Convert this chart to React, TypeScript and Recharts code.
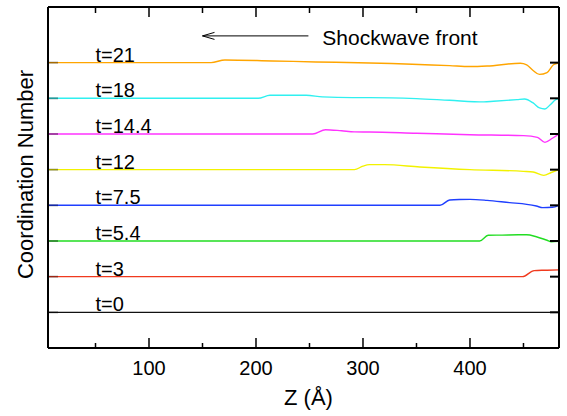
import { LineChart, Line, XAxis, YAxis, ReferenceDot, ReferenceLine } from "recharts";

const FONT = "'Liberation Sans', Arial, Helvetica, sans-serif";

// time labels (ps), bottom to top; each curve is stacked one unit above the previous
const TIMES = ["t=0", "t=3", "t=5.4", "t=7.5", "t=12", "t=14.4", "t=18", "t=21"];
const COLORS = ["#111111", "#F03A1E", "#22DD22", "#1F3FFF", "#F2F200", "#FF33FF", "#2FF0F0", "#FFA500"];

// Z positions (Å) and coordination number change for each time
const T0_Z = [6, 483];
const T0_D = [0, 0];
const T3_Z = [6, 449, 460, 470, 483];
const T3_D = [0, 0, 0.17, 0.18, 0.19];
const T54_Z = [6, 409, 417, 430, 445, 453, 462, 472, 476, 483];
const T54_D = [0, 0, 0.16, 0.165, 0.175, 0.175, 0.12, 0.02, -0.02, -0.01];
const T75_Z = [6, 372, 381, 390, 400, 416, 437, 453, 462, 468, 477, 483];
const T75_D = [0, 0, 0.15, 0.165, 0.168, 0.14, 0.075, 0.028, -0.02, -0.065, -0.056, 0];
const T12_Z = [6, 292, 300, 306, 320, 353, 400, 450, 459, 469, 476, 483];
const T12_D = [0, 0, 0.1, 0.14, 0.14, 0.075, 0, -0.047, -0.065, -0.16, -0.08, 0];
const T144_Z = [6, 253, 265, 280, 292, 306, 350, 400, 450, 463, 470, 477, 483];
const T144_D = [0, 0, 0.12, 0.09, 0.06, 0.056, 0.02, -0.02, -0.047, -0.095, -0.235, -0.12, 0];
const T18_Z = [6, 202, 213, 247, 262, 290, 306, 350, 381, 413, 422, 444, 451, 459, 465, 470, 475, 480, 483];
const T18_D = [0, 0, 0.084, 0.084, 0.04, 0.02, 0.02, -0.01, -0.056, -0.1, -0.084, -0.037, -0.02, -0.13, -0.27, -0.3, -0.18, -0.04, 0];
const T21_Z = [6, 158, 171, 215, 256, 306, 381, 400, 416, 447, 453, 459, 465, 472, 478, 483];
const T21_D = [0, 0, 0.076, 0.048, 0.02, -0.01, -0.084, -0.11, -0.095, -0.017, -0.06, -0.22, -0.33, -0.28, -0.06, -0.01];

const SERIES_Z = [T0_Z, T3_Z, T54_Z, T75_Z, T12_Z, T144_Z, T18_Z, T21_Z];
const SERIES_D = [T0_D, T3_D, T54_D, T75_D, T12_D, T144_D, T18_D, T21_D];

const X_TICKS = [50, 100, 150, 200, 250, 300, 350, 400, 450];
const Y_TICKS = [0, 1, 2, 3, 4, 5, 6, 7];
const X_DOMAIN = [5.6, 483.2];
const Y_DOMAIN = [-1, 8.56];

const series = SERIES_Z.map((zs, k) =>
  zs.map((z, i) => ({ z, v: k + SERIES_D[k][i] }))
);

function BottomTick(p: any) {
  const v = p.payload.value;
  const major = v % 100 === 0;
  return (
    <g>
      <line x1={p.x} x2={p.x} y1={p.y} y2={p.y - (major ? 10 : 5)} stroke="#000" strokeWidth={1.5} />
      {major && (
        <text x={p.x} y={p.y + 27} textAnchor="middle" fontSize={20} fontFamily={FONT} fill="#000">
          {v}
        </text>
      )}
    </g>
  );
}

function TopTick(p: any) {
  const major = p.payload.value % 100 === 0;
  return <line x1={p.x} x2={p.x} y1={p.y} y2={p.y + (major ? 10 : 6)} stroke="#000" strokeWidth={1.5} />;
}

function LeftTick(p: any) {
  return <line x1={p.x} x2={p.x + 10} y1={p.y} y2={p.y} stroke="#000" strokeOpacity={0.35} strokeWidth={2} />;
}

function RightTick(p: any) {
  return <line x1={p.x} x2={p.x - 9} y1={p.y} y2={p.y} stroke="#000" strokeWidth={2} />;
}

export default function App() {
  return (
    <div style={{ position: "absolute", left: 0, top: 0, width: 567, height: 416, background: "#fff" }}>
      <LineChart width={567} height={416} margin={{ top: 0, right: 0, bottom: 0, left: 0 }}>
        <XAxis
          xAxisId="b"
          type="number"
          dataKey="z"
          domain={X_DOMAIN}
          ticks={X_TICKS}
          interval={0}
          height={68}
          tickSize={0}
          tickMargin={0}
          axisLine={{ stroke: "#000", strokeWidth: 2 }}
          tick={BottomTick}
          allowDataOverflow
          label={{
            content: ({ viewBox }: any) => (
              <text
                x={viewBox.x + viewBox.width / 2 + 5}
                y={viewBox.y + 57}
                textAnchor="middle"
                fontSize={22}
                fontFamily={FONT}
                fill="#000"
              >
                Z (Å)
              </text>
            ),
          }}
        />
        <XAxis
          xAxisId="t"
          orientation="top"
          type="number"
          dataKey="z"
          domain={X_DOMAIN}
          ticks={X_TICKS}
          interval={0}
          height={7}
          tickSize={0}
          tickMargin={0}
          axisLine={{ stroke: "#000", strokeWidth: 2 }}
          tick={TopTick}
          allowDataOverflow
        />
        <YAxis
          yAxisId="l"
          type="number"
          domain={Y_DOMAIN}
          ticks={Y_TICKS}
          interval={0}
          width={48}
          tickSize={0}
          tickMargin={0}
          axisLine={{ stroke: "#000", strokeWidth: 2 }}
          tick={LeftTick}
          allowDataOverflow
          label={{
            content: ({ viewBox }: any) => {
              const cx = viewBox.x + viewBox.width - 15;
              const cy = viewBox.y + viewBox.height / 2 - 3;
              return (
                <text
                  x={cx}
                  y={cy}
                  transform={`rotate(-90, ${cx}, ${cy})`}
                  textAnchor="middle"
                  fontSize={22}
                  fontFamily={FONT}
                  fill="#000"
                >
                  Coordination Number
                </text>
              );
            },
          }}
        />
        <YAxis
          yAxisId="r"
          orientation="right"
          type="number"
          domain={Y_DOMAIN}
          ticks={Y_TICKS}
          interval={0}
          width={8}
          tickSize={0}
          tickMargin={0}
          axisLine={{ stroke: "#000", strokeWidth: 2 }}
          tick={RightTick}
          allowDataOverflow
        />

        {series.map((data, k) => (
          <Line
            key={TIMES[k]}
            xAxisId="b"
            yAxisId="l"
            data={data}
            dataKey="v"
            type="monotone"
            stroke={COLORS[k]}
            strokeWidth={1.4}
            dot={false}
            activeDot={false}
            isAnimationActive={false}
          />
        ))}

        {TIMES.map((t, k) => (
          <ReferenceDot
            key={"lbl" + t}
            xAxisId="b"
            yAxisId="l"
            x={50}
            y={k}
            r={0}
            shape={(p: any) => (
              <text x={p.cx} y={p.cy - 1} fontSize={20} fontFamily={FONT} fill="#000">
                {t}
              </text>
            )}
          />
        ))}

        <ReferenceLine
          xAxisId="b"
          yAxisId="l"
          segment={[
            { x: 150, y: 7.75 },
            { x: 249, y: 7.75 },
          ]}
          stroke="#000"
          strokeWidth={1}
        />
        <ReferenceDot
          xAxisId="b"
          yAxisId="l"
          x={150}
          y={7.75}
          r={0}
          shape={(p: any) => (
            <polyline
              points={`${p.cx + 12},${p.cy - 3.5} ${p.cx},${p.cy} ${p.cx + 12},${p.cy + 3.5}`}
              fill="none"
              stroke="#000"
              strokeWidth={1}
            />
          )}
        />
        <ReferenceDot
          xAxisId="b"
          yAxisId="l"
          x={262}
          y={7.75}
          r={0}
          shape={(p: any) => (
            <text x={p.cx} y={p.cy + 9} fontSize={21} fontFamily={FONT} fill="#000">
              Shockwave front
            </text>
          )}
        />
      </LineChart>
    </div>
  );
}
